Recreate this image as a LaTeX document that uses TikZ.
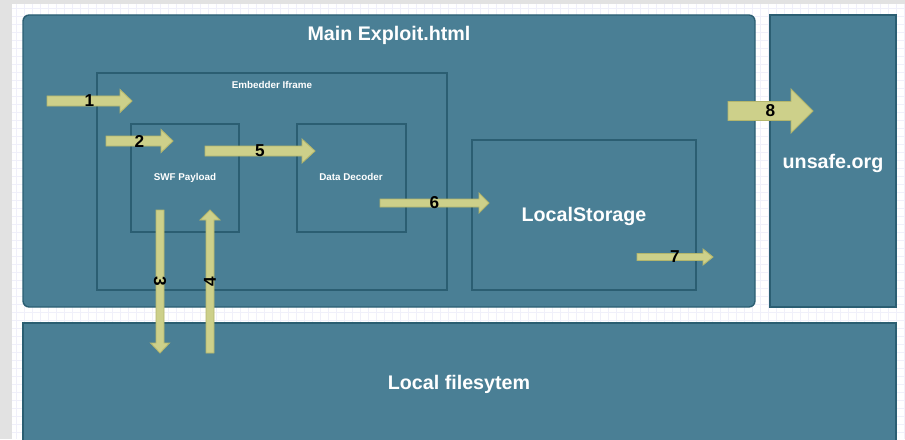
\documentclass[tikz,border=0pt]{standalone}
\usepackage{fontspec}
\setmainfont{Liberation Sans}
\usetikzlibrary{fit}
\definecolor{boxfill}{HTML}{4A7F95}
\definecolor{boxline}{HTML}{2B5E72}
\definecolor{flowfill}{HTML}{CDD08A}
\definecolor{flowline}{HTML}{B3B66C}
\definecolor{pagegray}{HTML}{E2E2E2}
\definecolor{gridline}{HTML}{F0F0FA}
\tikzset{
  box/.style={draw=boxline, fill=boxfill, line width=0.8pt, inner sep=0pt},
  mainbox/.style={box, rounded corners=3.5pt},
  title/.style={text=white, font=\fontsize{11.2}{13}\selectfont\bfseries, anchor=base},
  small/.style={text=white, font=\fontsize{5.6}{6}\selectfont\bfseries, anchor=base},
  num/.style={text=black, font=\fontsize{9.8}{11}\selectfont\bfseries, inner sep=0pt},
  arrowbody/.style={fill=flowfill, draw=flowline, line width=0.5pt},
  alen/.store in=\alen, ashaft/.store in=\ashaft, ahead/.store in=\ahead, atip/.store in=\atip,
  alen=80, ashaft=10, ahead=23, atip=12,
  flow/.pic={
    \path[arrowbody] (0,-\ashaft/2) -- (\alen-\atip,-\ashaft/2) -- (\alen-\atip,-\ahead/2) -- (\alen,0)
      -- (\alen-\atip,\ahead/2) -- (\alen-\atip,\ashaft/2) -- (0,\ashaft/2) -- cycle;
    \node[num, transform shape] (-num) at (\alen/2,0) {\tikzpictext};
  },
}
\begin{document}
\begin{tikzpicture}[x=0.02cm, y=-0.02cm]
  \useasboundingbox (0,0) rectangle (905,439);
  % page and grid
  \fill[pagegray] (0,0) rectangle (905,439);
  \fill[white] (12,4) rectangle (905,439);
  \draw[gridline, line width=0.3pt, xstep=0.16cm, ystep=0.16cm] (12,4) grid (905,439);

  % containers
  \node[mainbox, fit={(23,15) (755,307)}] (main) {};
  \node[box, fit={(770,15) (896,307)}] (unsafe) {};
  \node[box, fit={(23,323) (896,450)}] (fs) {};
  \node[box, fit={(97,73) (447,290)}] (iframe) {};
  \node[box, fit={(131,124) (239,232)}] (swf) {};
  \node[box, fit={(297,124) (406,232)}] (decoder) {};
  \node[box, fit={(472,140) (696,290)}] (storage) {};

  % texts
  \node[title] (maintitle) at (389,41) {Main Exploit.html};
  \node[title] (unsafetitle) at (833,168) {unsafe.org};
  \node[title] (fstitle) at (459,389) {Local filesytem};
  \node[title] (storagetitle) at (584,221) {LocalStorage};
  \node[small] (iframetitle) at (272,89) {Embedder Iframe};
  \node[small] (swftitle) at (185,180) {SWF Payload};
  \node[small] (decodertitle) at (351,180) {Data Decoder};

  % steps
  \pic[pic text=1, alen=85, ashaft=10, ahead=23, atip=12] (f1) at (47,101) {flow};
  \pic[pic text=2, alen=67, ashaft=10, ahead=23, atip=12] (f2) at (106,141) {flow};
  \pic[pic text=3, rotate=-90, alen=143, ashaft=8, ahead=19, atip=10] (f3) at (160,210) {flow};
  \pic[pic text=4, rotate=90, alen=143, ashaft=8, ahead=20, atip=10] (f4) at (210,353) {flow};
  \pic[pic text=5, alen=110, ashaft=10, ahead=24, atip=13] (f5) at (205,151) {flow};
  \pic[pic text=6, alen=109, ashaft=8, ahead=20, atip=10] (f6) at (380,203) {flow};
  \pic[pic text=7, alen=76, ashaft=7, ahead=16, atip=10] (f7) at (637,257) {flow};
  \pic[pic text=8, alen=85, ashaft=19, ahead=44, atip=22] (f8) at (728,111) {flow};
\end{tikzpicture}
\end{document}
